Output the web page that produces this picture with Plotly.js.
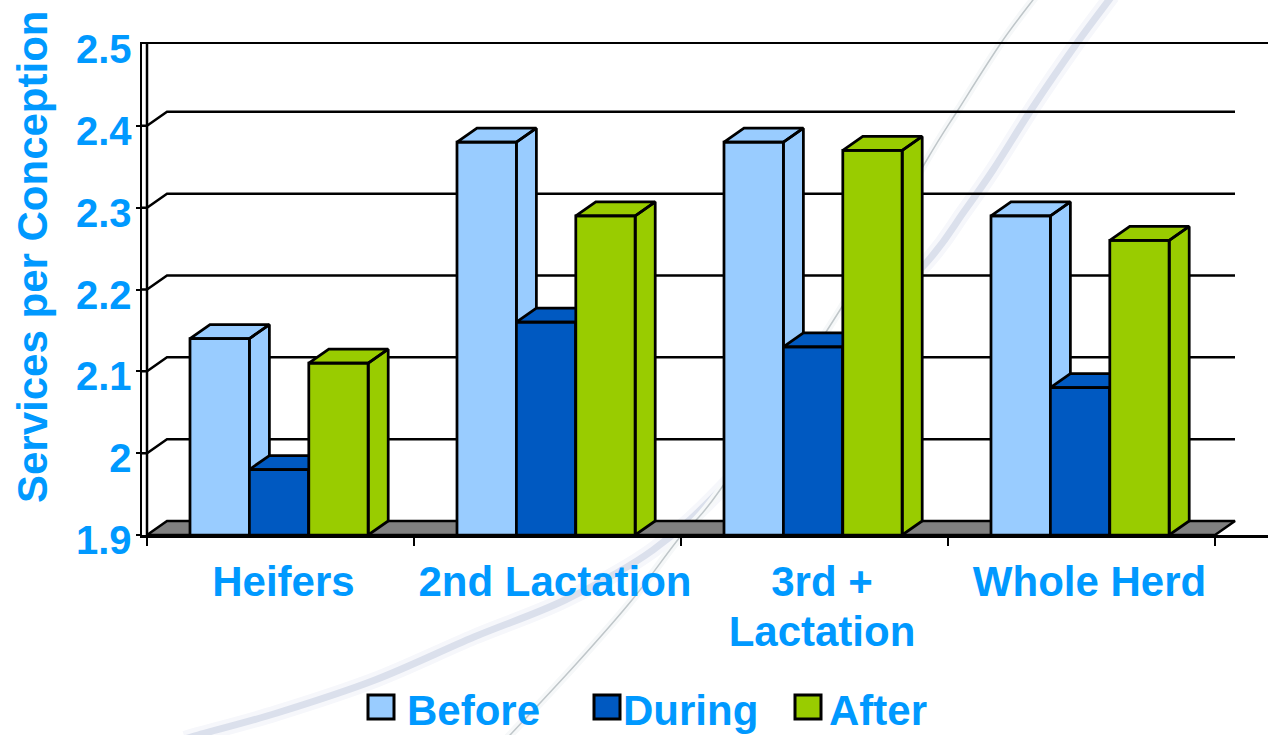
<!DOCTYPE html>
<html>
<head>
<meta charset="utf-8">
<script src="https://cdn.plot.ly/plotly-3.0.1.min.js"></script>
<style>html,body{margin:0;padding:0;background:#fff;overflow:hidden}#chart{width:1268px;height:735px}</style>
</head>
<body>
<div id="chart"></div>
<script>
// ---- data ----
const categories = ["Heifers", "2nd Lactation", "3rd +<br>Lactation", "Whole Herd"];
const before = [2.14, 2.38, 2.38, 2.29];
const during = [1.98, 2.16, 2.13, 2.08];
const after  = [2.11, 2.29, 2.37, 2.26];
const seriesNames = ["Before", "During", "After"];
const yTicks = [1.9, 2.0, 2.1, 2.2, 2.3, 2.4, 2.5];
const yTickText = ["1.9", "2", "2.1", "2.2", "2.3", "2.4", "2.5"];

// ---- style / geometry ----
const W = 1268, H = 735, L = 142, T = 44, B = 535;
const catPx = 267, wall = -0.5, xMin = wall - 5 / catPx, xMax = xMin + (W - L) / catPx;
const yMin = 1.9, yMax = 2.5, yPx = (B - T) / (yMax - yMin);
const dx = 20 / catPx, dy = 14 / yPx;
const colors = ["#99ccff", "#0059c1", "#99cc00"];
const blue = "#0099ff", font = "Liberation Sans, Arial, sans-serif";
const groupStart = -0.339, barW = 0.2225;
const labelPos = [0.011, 1.028, 2.028, 3.03];
const px = x => (x - L) / (W - L), py = y => (B - y) / (B - T);

const traces = [];
// inner wall line
traces.push({x:[wall, wall], y:[yMin, yMax], mode:"lines",
  line:{color:"#000",width:2.5}, hoverinfo:"skip", showlegend:false});
// back-wall gridlines (tick stub, diagonal, run along the back wall)
yTicks.filter(v => v > yMin && v < yMax).forEach(v => {
  traces.push({x:[xMin, wall, wall+dx, 3.5+dx], y:[v, v, v+dy, v+dy], mode:"lines",
    line:{color:"#000",width:2.5,simplify:false}, hoverinfo:"skip", showlegend:false});
});
// floor
traces.push({x:[wall, wall+dx, 3.5+dx, 3.5, wall], y:[yMin, yMin+dy, yMin+dy, yMin, yMin],
  mode:"lines", fill:"toself", fillcolor:"#808080", line:{color:"#000",width:2.5},
  hoverinfo:"skip", showlegend:false});
// 3-D bars: side, top, front of each
const all = [before, during, after];
categories.forEach((c, i) => {
  all.forEach((vals, s) => {
    const x0 = i + groupStart + s * barW, x1 = x0 + barW, v = vals[i];
    const xs = [x1,x1+dx,x1+dx,x1,x1,null, x0,x0+dx,x1+dx,x1,x0,null, x0,x1,x1,x0,x0];
    const ys = [yMin,yMin+dy,v+dy,v,yMin,null, v,v+dy,v+dy,v,v,null, yMin,yMin,v,v,yMin];
    traces.push({x:xs, y:ys, mode:"lines", fill:"toself", fillcolor:colors[s],
      line:{color:"#000",width:2.75}, name:seriesNames[s], showlegend:false,
      hoverinfo:"skip"});
  });
});

// decorative swooshes behind the chart
function smooth(pts){
  const P = pts.map(p => [px(p[0]), py(p[1])]);
  let d = "M" + P[0][0] + "," + P[0][1];
  for(let i=0;i<P.length-1;i++){
    const a=P[Math.max(i-1,0)],b=P[i],c=P[i+1],e=P[Math.min(i+2,P.length-1)];
    d += "C"+(b[0]+(c[0]-a[0])/6)+","+(b[1]+(c[1]-a[1])/6)+" "+(c[0]-(e[0]-b[0])/6)+","+(c[1]-(e[1]-b[1])/6)+" "+c[0]+","+c[1];
  }
  return d;
}
const thickPath = smooth([[185,739],[198,735],[277,713],[375,680],[474,637],[565,600],[653,550],[730,480],[830,365],[927,262],[963,213],[993,170],[1033,107],[1077,43],[1112,-4]]);
const thinPath = smooth([[495,750],[510,735],[577,663],[632,600],[680,537],[720,490],[840,310],[925,163],[958,110],[1001,43],[1036,-4]]);
const shapes = [
  {type:"path",xref:"paper",yref:"paper",path:thickPath,layer:"below",line:{color:"#f6f7fb",width:16}},
  {type:"path",xref:"paper",yref:"paper",path:thickPath,layer:"below",line:{color:"#dbe0ec",width:7}},
  {type:"path",xref:"paper",yref:"paper",path:thinPath,layer:"below",line:{color:"#f6f8f9",width:8}},
  {type:"path",xref:"paper",yref:"paper",path:thinPath,layer:"below",line:{color:"#bfc6c9",width:1.5}}
];
// legend swatches + labels
const swatchX = [368, 594, 795], legendX = [406, 622, 828];
const annotations = [{xref:"paper",yref:"paper",x:px(32),y:py(257),xanchor:"center",yanchor:"middle",
  text:"Services per Conception",textangle:-90,
  showarrow:false,font:{family:font,size:42,color:blue,weight:700}}];
seriesNames.forEach((n, s) => {
  shapes.push({type:"rect",xref:"paper",yref:"paper",x0:px(swatchX[s]),x1:px(swatchX[s]+26),y0:py(719),y1:py(695),
    fillcolor:colors[s],line:{color:"#000",width:3}});
  annotations.push({xref:"paper",yref:"paper",x:px(legendX[s]),y:py(710.5),xanchor:"left",yanchor:"middle",
    text:n,showarrow:false,borderpad:0,font:{family:font,size:42,color:blue,weight:700}});
});

const layout = {
  width:W, height:H, margin:{l:L,r:0,t:T,b:H-B,pad:0},
  paper_bgcolor:"#fff", plot_bgcolor:"rgba(0,0,0,0)", showlegend:false,
  font:{family:font,size:42,color:blue},
  xaxis:{range:[xMin,xMax],tickmode:"array",tickvals:labelPos,ticktext:categories,ticks:"",mirror:true,
    showgrid:false,zeroline:false,showline:true,linecolor:"#000",linewidth:2.5,fixedrange:true,tickangle:0,
    ticklabelstandoff:8,tickfont:{family:font,size:42,color:blue,weight:700},
    minor:{tickmode:"array",tickvals:[-0.5,0.5,1.5,2.5,3.5],ticks:"outside",ticklen:8,tickwidth:2,tickcolor:"#000",showgrid:false}},
  yaxis:{range:[yMin,yMax],tickmode:"array",tickvals:yTicks,ticktext:yTickText,ticks:"",
    showgrid:false,zeroline:false,showline:true,linecolor:"#000",linewidth:2.5,fixedrange:true,
    ticklabelstandoff:0,ticklabelshift:5,tickfont:{family:font,size:40,color:blue,weight:700},
    minor:{tickmode:"array",tickvals:yTicks.slice(0,-1),ticks:"outside",ticklen:4,tickwidth:2,tickcolor:"#000",showgrid:false}},
  shapes, annotations
};
Plotly.newPlot("chart", traces, layout, {staticPlot:true, displayModeBar:false}).then(() => {
  // tighter line spacing for the wrapped category label
  document.querySelectorAll(".xtick text tspan.line").forEach(t => {
    if (t.getAttribute("dy") && parseFloat(t.getAttribute("dy")) > 0) t.setAttribute("dy", "1.19em");
  });
});
</script>
</body>
</html>
